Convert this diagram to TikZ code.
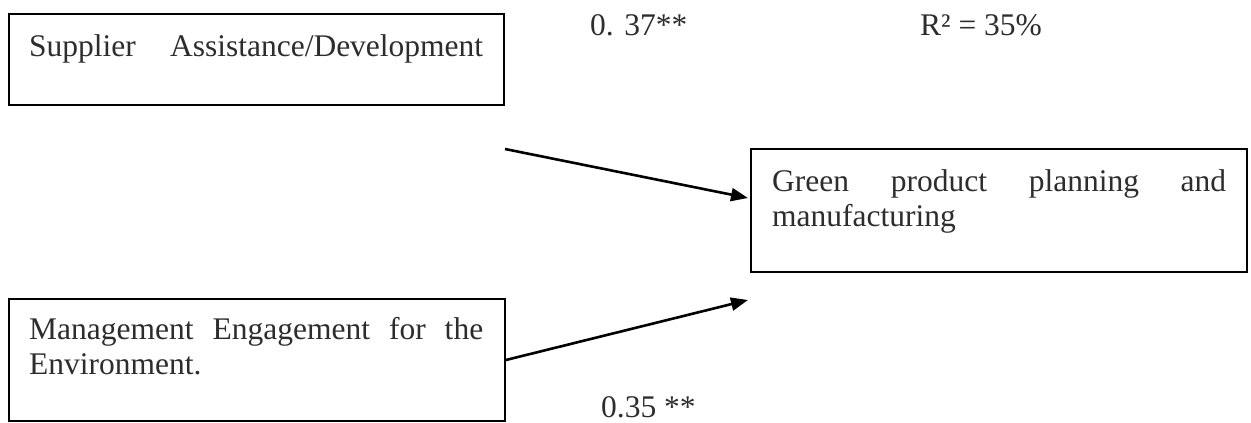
\documentclass[tikz,border=0pt]{standalone}
\usepackage{fontspec}
\setmainfont{Liberation Serif}
\usetikzlibrary{arrows.meta}
\definecolor{ink}{RGB}{45,45,45}
\begin{document}
\begin{tikzpicture}[x=1pt,y=-1pt,
  box/.style={draw=black,line width=1.8pt,inner sep=0pt},
  txt/.style={text=ink,font=\fontsize{31.5pt}{35pt}\selectfont,inner sep=0pt,
    text width=454pt,align=left,anchor=base west},
  lbl/.style={text=ink,font=\fontsize{31.5pt}{35pt}\selectfont,inner sep=0pt,anchor=base west},
  link/.style={draw=black,line width=2.6pt,-{Triangle[length=17pt,width=13pt]}}]
  \useasboundingbox (0,0) rectangle (1251,423);

  % boxes
  \node[box,minimum width=495pt,minimum height=91pt] (b1) at (256.5,59.5) {};
  \node[box,minimum width=496pt,minimum height=123pt] (b2) at (999,210.5) {};
  \node[box,minimum width=496pt,minimum height=122pt] (b3) at (257,360) {};

  % box texts
  \node[txt] (t1) at (29,56) {Supplier\hfill Assistance/Development};
  \node[txt] (t2) at (772,191) {Green\hfill product\hfill planning\hfill and\\manufacturing};
  \node[txt] (t3) at (29,339) {Management\hfill Engagement\hfill for\hfill the\\Environment.};

  % coefficients
  \node[lbl] (c1) at (590,35) {0. 37**};
  \node[lbl] (r2) at (920,35) {R² = 35\%};
  \node[lbl] (c2) at (601,417) {0.35 **};

  % paths
  \coordinate (s1) at (505,149);
  \coordinate (e1) at (748,198);
  \coordinate (e2) at (748,300);
  \draw[link] (s1) -- (e1);
  \draw[link] (b3.east) -- (e2);
\end{tikzpicture}
\end{document}
